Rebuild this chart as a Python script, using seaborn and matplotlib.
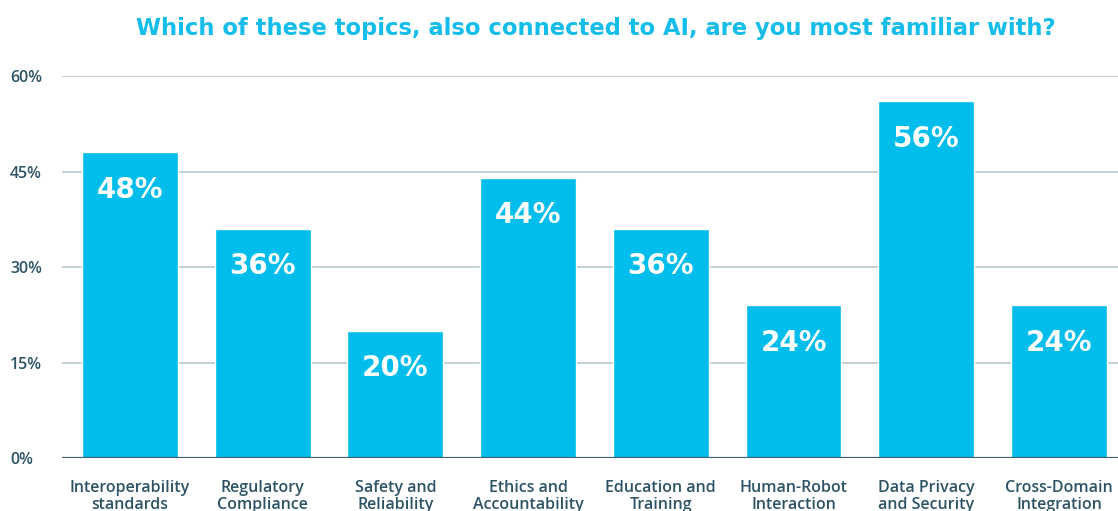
import matplotlib
matplotlib.use("Agg")
import matplotlib.pyplot as plt
import seaborn as sns
import pandas as pd

categories = ["Interoperability\nstandards", "Regulatory\nCompliance", "Safety and\nReliability",
              "Ethics and\nAccountability", "Education and\nTraining", "Human-Robot\nInteraction",
              "Data Privacy\nand Security", "Cross-Domain\nIntegration"]
values = [48, 36, 20, 44, 36, 24, 56, 24]
yticks = [0, 15, 30, 45, 60]
title = "Which of these topics, also connected to AI, are you most familiar with?"

sns.set_theme(style="white")
plt.rcParams['font.family'] = ['Open Sans', 'DejaVu Sans']

BAR = "#00BDEC"
TEXT = "#2C5366"

fig = plt.figure(figsize=(11.18, 5.11), dpi=100)
ax = fig.add_axes([62/1118, 53/511, 1 - 62/1118, (458-76)/511])

df = pd.DataFrame({"cat": categories, "val": values})
sns.barplot(data=df, x="cat", y="val", color=BAR, saturation=1, width=0.723, ax=ax, zorder=3)

ax.set_ylim(0, 60)
ax.set_xlim(-0.512, 7.445)
ax.set_yticks(yticks)
ax.set_yticklabels([f"{t}%" for t in yticks], fontsize=11.5, color=TEXT, fontweight="semibold")
ax.set_xticks(range(len(categories)))
ax.set_xticklabels(categories, fontsize=11.5, color=TEXT, fontweight="semibold", linespacing=1.05)
ax.tick_params(axis="y", length=0, pad=0)
ax.tick_params(axis="x", length=0, pad=16)
for lab in ax.get_yticklabels():
    lab.set_horizontalalignment("left")
    lab.set_transform(ax.get_yaxis_transform())
    lab.set_position((-52/1056, lab.get_position()[1]))

ax.set_xlabel("")
ax.set_ylabel("")
for t in yticks[1:]:
    ax.axhline(t, color="#B7C9D0", lw=1.2, zorder=1)
ax.axhline(0, color="#3C6274", lw=1.6, zorder=4)
for s in ax.spines.values():
    s.set_visible(False)

for i, v in enumerate(values):
    ax.annotate(f"{v}%", xy=(i, v), xytext=(0, -27), textcoords="offset points",
                ha="center", va="center", color="white", fontsize=20,
                fontweight="bold", family=["DejaVu Sans"], zorder=5)

fig.text(596/1118, 1 - 29/511, title, ha="center", va="center", color="#14BDEA",
         fontsize=16.3, fontweight="bold", family=["DejaVu Sans"])

fig.savefig("out.png", dpi=100)
